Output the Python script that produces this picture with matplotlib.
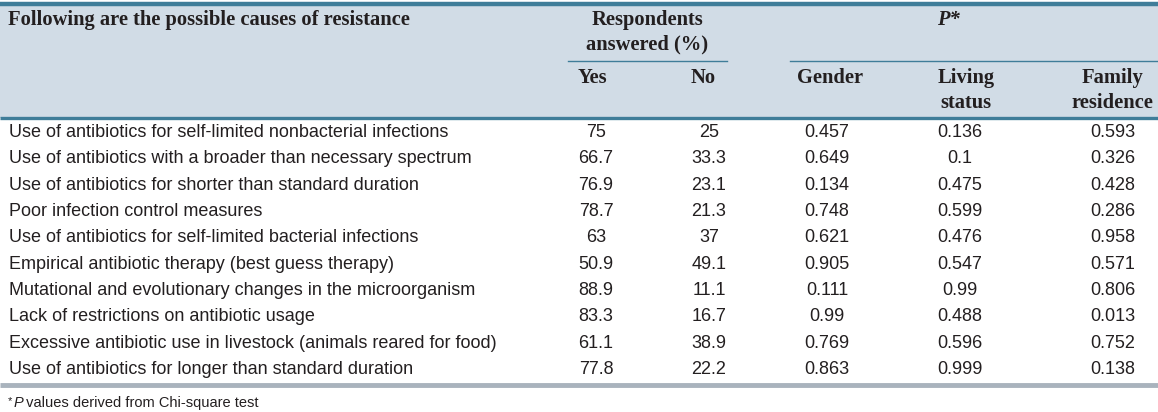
import matplotlib
matplotlib.use("Agg")
import matplotlib.pyplot as plt
from matplotlib.patches import Rectangle

causes = [
    "Use of antibiotics for self-limited nonbacterial infections",
    "Use of antibiotics with a broader than necessary spectrum",
    "Use of antibiotics for shorter than standard duration",
    "Poor infection control measures",
    "Use of antibiotics for self-limited bacterial infections",
    "Empirical antibiotic therapy (best guess therapy)",
    "Mutational and evolutionary changes in the microorganism",
    "Lack of restrictions on antibiotic usage",
    "Excessive antibiotic use in livestock (animals reared for food)",
    "Use of antibiotics for longer than standard duration",
]
yes = ["75", "66.7", "76.9", "78.7", "63", "50.9", "88.9", "83.3", "61.1", "77.8"]
no = ["25", "33.3", "23.1", "21.3", "37", "49.1", "11.1", "16.7", "38.9", "22.2"]
p_gender = ["0.457", "0.649", "0.134", "0.748", "0.621", "0.905", "0.111", "0.99", "0.769", "0.863"]
p_living = ["0.136", "0.1", "0.475", "0.599", "0.476", "0.547", "0.99", "0.488", "0.596", "0.999"]
p_family = ["0.593", "0.326", "0.428", "0.286", "0.958", "0.571", "0.806", "0.013", "0.752", "0.138"]

W, H = 1158, 412
fig = plt.figure(figsize=(W / 100, H / 100), dpi=100)
ax = fig.add_axes([0, 0, 1, 1])
ax.set_xlim(0, W)
ax.set_ylim(H, 0)
ax.set_axis_off()

teal = "#3f7d99"
txt = "#231f20"
serif = "Liberation Serif"
sans = "Liberation Sans"

# header block
ax.add_patch(Rectangle((0, 4), W, 114, facecolor="#d1dce6", edgecolor="none"))
ax.plot([0, W], [3.5, 3.5], color=teal, lw=3.2, solid_capstyle="butt")
ax.plot([0, W], [118, 118], color=teal, lw=2.4, solid_capstyle="butt")
ax.plot([568, 727], [61, 61], color=teal, lw=1.0)
ax.plot([790, W], [61, 61], color=teal, lw=1.0)

hkw = dict(family=serif, fontweight="bold", fontsize=14.8, color=txt, va="center")
ax.text(8, 20, "Following are the possible causes of resistance", ha="left", **hkw)
ax.text(647, 20, "Respondents", ha="center", **hkw)
ax.text(647, 44, "answered (%)", ha="center", **hkw)
ax.text(948, 20, "P*", ha="center", style="italic", **hkw)

cols = [596, 709, 827, 960, 1113]
ax.text(592, 78, "Yes", ha="center", **hkw)
ax.text(703, 78, "No", ha="center", **hkw)
ax.text(830, 78, "Gender", ha="center", **hkw)
ax.text(966, 78, "Living", ha="center", **hkw)
ax.text(966, 103, "status", ha="center", **hkw)
ax.text(1112, 78, "Family", ha="center", **hkw)
ax.text(1112, 103, "residence", ha="center", **hkw)

# body rows
bkw = dict(family=sans, fontsize=13.0, color=txt, va="center")
y0, dy = 132.5, 26.35
for i, cause in enumerate(causes):
    y = y0 + i * dy
    ax.text(9, y, cause, ha="left", **bkw)
    for x, col in zip(cols, [yes, no, p_gender, p_living, p_family]):
        ax.text(x, y, col[i], ha="center", **bkw)

ax.plot([0, W], [384.5, 384.5], color="#a9b3bd", lw=3.5, solid_capstyle="butt")

ax.text(8, 401, "*", ha="left", family=sans, fontsize=8, color=txt, va="center")
ax.text(14, 403, "P", ha="left", family=sans, fontsize=10.5, style="italic", color=txt, va="center")
ax.text(22, 403, " values derived from Chi-square test", ha="left", family=sans, fontsize=10.5,
        color=txt, va="center")

fig.savefig("out.png", dpi=100)
